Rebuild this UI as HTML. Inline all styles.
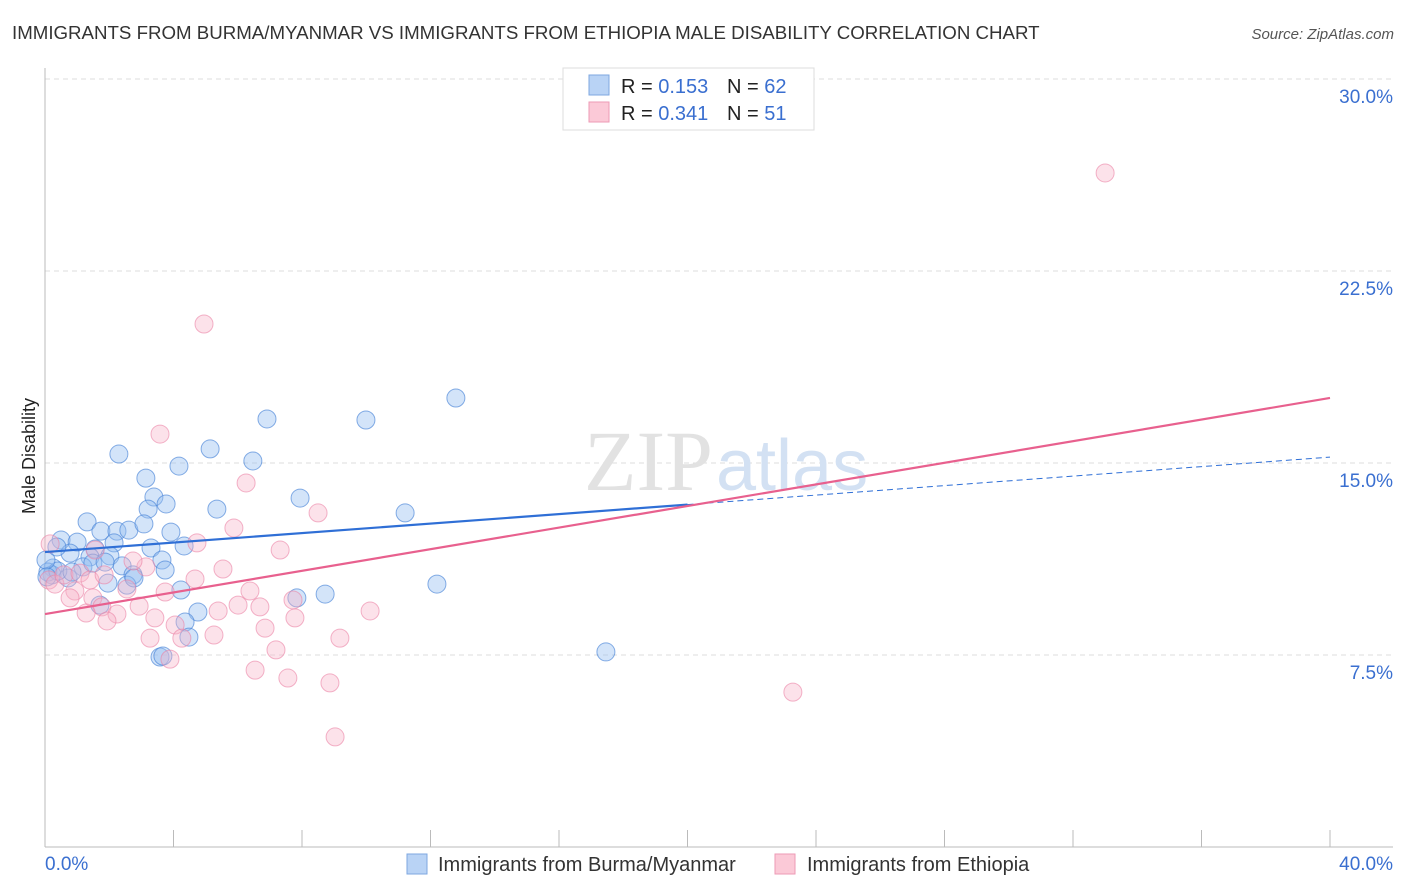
<!DOCTYPE html>
<html><head><meta charset="utf-8"><style>
body{margin:0;background:#fff;font-family:"Liberation Sans",sans-serif;}
svg{display:block}
</style></head><body>
<svg id="chart" width="1406" height="892">
<text x="12" y="39" font-size="18.7" fill="#333">IMMIGRANTS FROM BURMA/MYANMAR VS IMMIGRANTS FROM ETHIOPIA MALE DISABILITY CORRELATION CHART</text>
<text x="1394" y="39" font-size="15" fill="#555" font-style="italic" text-anchor="end">Source: ZipAtlas.com</text>
<text x="35" y="456" font-size="18" fill="#222" text-anchor="middle" transform="rotate(-90 35 456)">Male Disability</text>
<g id="grid"></g>
<text x="713" y="490" font-size="86" fill="#e2e2e2" font-family="Liberation Serif,serif" text-anchor="end">ZIP</text>
<text x="716" y="490" font-size="72" fill="#d3e1f3">atlas</text>
<g id="pts"></g>
<g id="lines"></g>
<g>
<rect x="563" y="68" width="251" height="62" fill="#fff" stroke="#ddd"/>
<rect x="589" y="75" width="20" height="20" fill="#b9d3f5" stroke="#7ea7e0"/>
<rect x="589" y="102" width="20" height="20" fill="#fbc9d7" stroke="#ee9ab5"/>
<text x="621" y="93" font-size="20" fill="#222">R = <tspan fill="#3a6fd0">0.153</tspan></text>
<text x="727" y="93" font-size="20" fill="#222">N = <tspan fill="#3a6fd0">62</tspan></text>
<text x="621" y="120" font-size="20" fill="#222">R = <tspan fill="#3a6fd0">0.341</tspan></text>
<text x="727" y="120" font-size="20" fill="#222">N = <tspan fill="#3a6fd0"> 51</tspan></text>
</g>
<g>
<rect x="407" y="854" width="20" height="20" fill="#b9d3f5" stroke="#7ea7e0"/>
<text x="438" y="871" font-size="20" fill="#333">Immigrants from Burma/Myanmar</text>
<rect x="775" y="854" width="20" height="20" fill="#fbc9d7" stroke="#ee9ab5"/>
<text x="807" y="871" font-size="20" fill="#333">Immigrants from Ethiopia</text>
</g>
</svg>
<script>
const yTicks=[7.5,15,22.5,30];
const yTickLabels=["7.5%","15.0%","22.5%","30.0%"];
const xTickLabels=["0.0%","40.0%"];
const blueX=[2.30,5.14,6.91,9.99,12.79,6.47,4.17,3.14,3.39,3.77,3.21,5.35,7.94,11.21,1.31,0.50,1.74,2.24,2.61,3.08,3.92,1.00,1.56,2.15,3.30,4.33,0.78,1.40,2.02,3.64,0.25,1.18,2.40,2.74,0.22,0.72,0.09,0.40,1.96,2.55,4.23,1.71,4.76,4.36,4.48,3.58,3.67,7.84,8.72,12.20,17.46,1.49,0.03,0.06,2.77,3.74,0.84,0.37,1.87];
const blueY=[15.35,15.55,16.72,16.68,17.54,15.08,14.88,14.41,13.67,13.40,13.20,13.20,13.63,13.05,12.70,11.99,12.34,12.34,12.38,12.62,12.30,11.91,11.64,11.88,11.68,11.76,11.48,11.33,11.37,11.21,10.90,10.94,10.98,10.63,10.63,10.51,10.74,10.78,10.31,10.23,10.04,9.45,9.18,8.79,8.20,7.42,7.46,9.73,9.88,10.27,7.62,11.09,11.21,10.55,10.51,10.82,10.74,11.72,11.13];
const pinkX=[33.0,4.95,3.58,6.26,8.50,5.88,4.73,7.32,5.54,3.14,2.74,1.56,0.16,0.12,0.31,0.59,1.09,1.40,1.84,2.55,0.93,1.49,0.78,1.77,1.28,2.24,1.93,2.93,3.42,3.74,4.67,5.39,6.01,6.69,6.38,7.72,7.78,6.85,4.05,4.26,3.27,5.26,10.12,9.18,7.19,3.89,6.54,7.56,8.87,9.03,23.28];
const pinkY=[26.33,20.43,16.13,14.22,13.05,12.46,11.88,11.60,10.86,10.94,11.17,11.60,11.84,10.43,10.27,10.63,10.70,10.43,10.63,10.08,10.00,9.73,9.73,9.38,9.14,9.10,8.83,9.41,8.95,9.96,10.47,9.22,9.45,9.38,10.00,9.65,8.95,8.55,8.67,8.16,8.16,8.28,9.22,8.16,7.70,7.34,6.91,6.60,6.41,4.30,6.05];
const blueTrend=[11.52,15.23];
const pinkTrend=[9.10,17.54];
const NS="http://www.w3.org/2000/svg";
const X=v=>45+v/40*1285;
const Y=v=>847-v*25.6;
function mk(tag,attrs,parent){const e=document.createElementNS(NS,tag);for(const k in attrs)e.setAttribute(k,attrs[k]);parent.appendChild(e);return e;}
const grid=document.getElementById('grid');
yTicks.forEach((t,i)=>{
 const l=mk('line',{x1:45,x2:1393,y1:Y(t),y2:Y(t),stroke:'#ddd','stroke-dasharray':'5,4'},grid);
 
 
 const tx=mk('text',{x:1393,y:Y(t)+24,'font-size':19,fill:'#3a6fd0','text-anchor':'end'},grid);
 tx.textContent=yTickLabels[i];
 
 
});
const ax=mk('line',{x1:45,x2:45,y1:68,y2:847,stroke:'#bbb'},grid);


const xa=mk('line',{x1:45,x2:1393,y1:847,y2:847,stroke:'#bbb'},grid);


for(let i=0;i<=10;i++){
 const tk=mk('line',{x1:X(i*4),x2:X(i*4),y1:830,y2:847,stroke:'#bbb'},grid);
 
 
}
[[0,'start',X(0)],[1,'end',1393]].forEach(([i,a,x])=>{
 const t=mk('text',{x:x,y:870,'font-size':19,fill:'#3a6fd0','text-anchor':a},grid);
 t.textContent=xTickLabels[i];
 
 
});
const pts=document.getElementById('pts');
blueX.forEach((v,i)=>{
 const c=mk('circle',{cx:X(v),cy:Y(blueY[i]),r:9,fill:'rgba(150,190,240,0.42)',stroke:'rgba(70,130,215,0.65)','stroke-width':1},pts);
 
 
});
pinkX.forEach((v,i)=>{
 const c=mk('circle',{cx:X(v),cy:Y(pinkY[i]),r:9,fill:'rgba(248,180,200,0.38)',stroke:'rgba(235,130,165,0.6)','stroke-width':1},pts);
 
 
});
const lines=document.getElementById('lines');
const bAt=x=>blueTrend[0]+(blueTrend[1]-blueTrend[0])*x/40;
const pAt=x=>pinkTrend[0]+(pinkTrend[1]-pinkTrend[0])*x/40;
const bl=mk('line',{x1:X(0),y1:Y(bAt(0)),x2:X(20),y2:Y(bAt(20)),stroke:'#2f6fd6','stroke-width':2.2},lines);


const bd=mk('line',{x1:X(20),y1:Y(bAt(20)),x2:X(40),y2:Y(bAt(40)),stroke:'#2f6fd6','stroke-width':1,'stroke-dasharray':'6,4'},lines);


const pl=mk('line',{x1:X(0),y1:Y(pAt(0)),x2:X(40),y2:Y(pAt(40)),stroke:'#e8608e','stroke-width':2.2},lines);


</script>
</body></html>
